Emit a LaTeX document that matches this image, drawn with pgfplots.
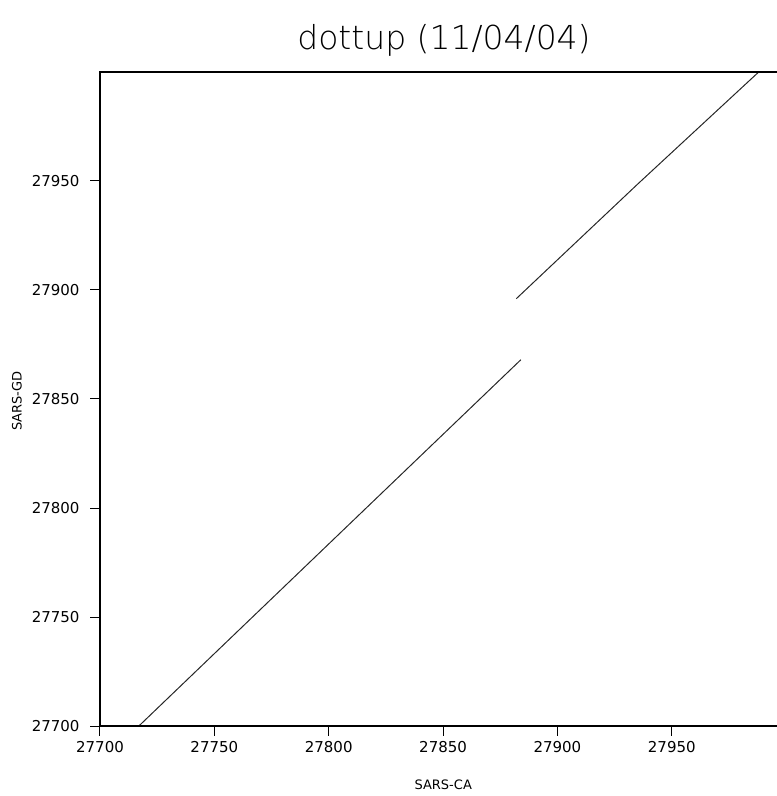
\documentclass[border=0pt]{standalone}
\usepackage{pgfplots}
\pgfplotsset{compat=1.18}
\usepackage{fontspec}
\setmainfont{DejaVu Sans}
\newfontfamily\thinfont{DejaVu Sans ExtraLight}

\begin{document}
\begin{tikzpicture}
\begin{axis}[
    at={(0,0)}, anchor=south west,
    scale only axis,
    width=677pt, height=654pt,
    xmin=27700, xmax=27996,
    ymin=27700, ymax=28000,
    xtick={27700,27750,...,27950},
    ytick={27700,27750,...,27950},
    scaled ticks=false,
    tick align=outside,
    tick pos=left,
    major tick length=10pt,
    tick style={black, line width=1pt},
    axis line style={draw=none},
    clip=false,
    ticklabel style={font=\fontsize{15}{15}\selectfont},
    yticklabel style={xshift=-7pt},
    xticklabel style={yshift=-2pt},
    /pgf/number format/assume math mode=true,
    /pgf/number format/fixed,
    /pgf/number format/precision=0,
    /pgf/number format/set thousands separator={},
    xlabel={SARS-CA},
    ylabel={SARS-GD},
    label style={font=\fontsize{13}{13}\selectfont},
    xlabel style={at={(axis description cs:0.507,0)}, anchor=center, yshift=-59pt},
    ylabel style={at={(axis description cs:0,0.497)}, anchor=center, yshift=83pt},
]

% dottup match runs (SARS-CA vs SARS-GD)
\addplot[black!85, line width=1pt] coordinates {
    (27717,27700) (27800,27783.5) (27884,27868)
};
\addplot[black!85, line width=1pt] coordinates {
    (27882,27896) (27935,27948.5) (27988,28000)
};

\draw[black, line width=1.5pt] (rel axis cs:1,1) -- (rel axis cs:0,1) -- (rel axis cs:0,0) -- (rel axis cs:1,0);
\end{axis}
\node[font=\thinfont\fontsize{33}{33}\selectfont] at (344pt,686pt) {dottup (11/04/04)};
\pgfresetboundingbox
\path[use as bounding box] (-100pt,-70pt) rectangle (677pt,726pt);
\end{tikzpicture}
\end{document}
